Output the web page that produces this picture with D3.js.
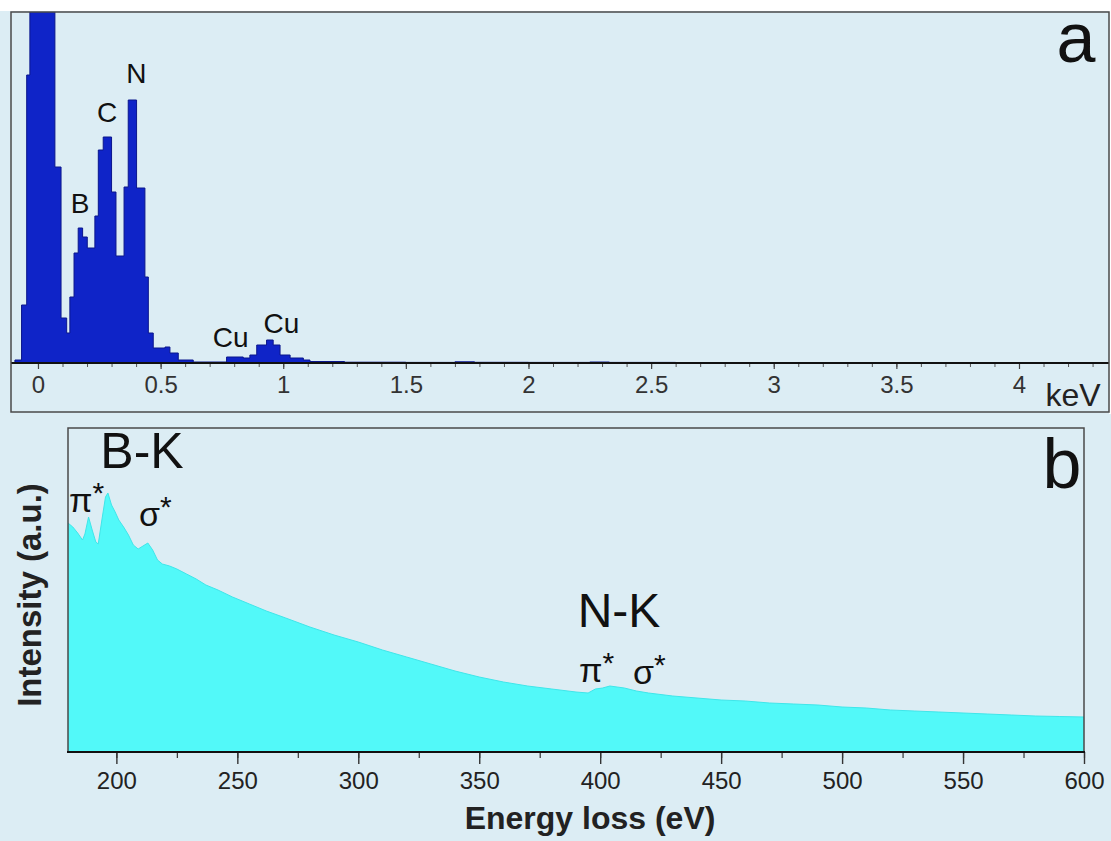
<!DOCTYPE html>
<html>
<head>
<meta charset="utf-8">
<script src="https://cdn.jsdelivr.net/npm/d3@7/dist/d3.min.js"></script>
<style>
  html, body { margin: 0; padding: 0; background: #dcedf4; }
  svg { display: block; }
  text { font-family: Arial, "Liberation Sans", Helvetica, sans-serif; }
</style>
</head>
<body>
<svg id="chart" width="1111" height="841"></svg>
<script>
// ---------- Panel a: EDS spectrum (step histogram) ----------
const edsEnergy = [-0.11, -0.094, -0.067, -0.046, -0.033, 0.069, 0.094, 0.117, 0.130, 0.147,
  0.164, 0.182, 0.201, 0.232, 0.246, 0.266, 0.300, 0.318, 0.351, 0.368,
  0.402, 0.436, 0.450, 0.470, 0.518, 0.538, 0.572, 0.633, 0.769, 0.837,
  0.864, 0.892, 0.932, 0.959, 0.987, 1.028, 1.082, 1.109, 1.25, 1.50,
  1.70, 1.78, 2.00, 2.25, 2.33, 2.60, 3.00, 3.50, 4.00, 4.367];
const edsCounts = [0, 3, 58, 288, 1500, 196, 45, 30, 66, 110,
  135, 126, 115, 147, 213, 226, 171, 107, 176, 263,
  175, 86, 30, 15, 16, 10, 3, 1, 6, 5,
  8, 18, 23, 18, 8, 5, 3, 1.5, 0.8, 0.6,
  1.2, 0.7, 0.6, 1.0, 0.6, 0.5, 0.5, 0.5, 0.5, 0.5];
const edsTicks = [0, 0.5, 1, 1.5, 2, 2.5, 3, 3.5, 4];
const edsPeakLabels = ["B", "C", "N", "Cu", "Cu"];
const edsPeakEnergy = [0.172, 0.282, 0.401, 0.786, 0.993];
const edsPeakLabelCount = [150, 241, 280, 16, 30];

// ---------- Panel b: EELS spectrum ----------
const eelsEnergy = [180, 182, 184, 186, 187, 188.5, 190, 191.5, 192.5, 194,
  195.5, 196.5, 198, 199.5, 201, 203, 205, 207, 209, 211,
  213, 215, 217, 219, 222, 225, 229, 233, 237, 242,
  248, 255, 262, 270, 280, 290, 300, 310, 320, 330,
  340, 350, 360, 370, 380, 390, 395, 398, 401, 404,
  407, 410, 415, 420, 430, 440, 450, 460, 470, 480,
  490, 500, 510, 520, 530, 540, 550, 560, 570, 580,
  590, 600];
const eelsIntensity = [229, 225, 219, 212, 218, 235, 222, 210, 208, 232,
  255, 259, 247, 240, 232, 225, 217, 207, 203, 206,
  209, 202, 192, 188, 186, 183, 178, 173, 167, 162,
  155, 148, 141, 134, 125, 117, 110, 102, 95, 88,
  81, 75, 70, 66, 63, 60, 59, 63, 64, 66,
  65, 64, 61, 59, 56, 54, 52, 51, 49, 48,
  47, 45, 44, 42, 41, 40, 39, 38, 37, 36,
  35.5, 35];
const eelsTicks = [200, 250, 300, 350, 400, 450, 500, 550, 600];

const svg = d3.select("#chart");
const BG = "#dcedf4";

svg.append("rect").attr("x", 0).attr("y", 0).attr("width", 1111).attr("height", 841).attr("fill", BG);
svg.append("rect").attr("x", 0).attr("y", 0).attr("width", 1111).attr("height", 11).attr("fill", "#ffffff");
svg.append("rect").attr("x", 1109).attr("y", 0).attr("width", 2).attr("height", 414).attr("fill", "#ffffff");

// ===== Panel a =====
const A = { left: 11, right: 1109, top: 12, bottom: 412, base: 363 };
const xA = d3.scaleLinear().domain([-0.11, 4.367]).range([A.left, A.right]);
const yA = d3.scaleLinear().domain([0, 351]).range([A.base, A.top]);

svg.append("defs").append("clipPath").attr("id", "clipA")
  .append("rect").attr("x", A.left).attr("y", A.top)
  .attr("width", A.right - A.left).attr("height", A.base - A.top);

const edsData = edsEnergy.map((e, i) => ({ e, c: edsCounts[i] }));
const areaA = d3.area().curve(d3.curveStepAfter)
  .x(d => xA(d.e)).y0(yA(0)).y1(d => yA(d.c));
const lineA = d3.line().curve(d3.curveStepAfter)
  .x(d => xA(d.e)).y(d => yA(d.c));

const gA = svg.append("g").attr("clip-path", "url(#clipA)");
gA.append("path").datum(edsData).attr("d", areaA).attr("fill", "#0f24c8");
gA.append("path").datum(edsData).attr("d", lineA).attr("fill", "none")
  .attr("stroke", "#0b168c").attr("stroke-width", 1);

const minorA = d3.range(0, 4.35, 0.1);
svg.append("g").attr("transform", `translate(0,${A.base})`)
  .call(d3.axisBottom(xA).tickValues(minorA).tickSize(4).tickFormat(""))
  .call(g => g.select(".domain").remove())
  .call(g => g.selectAll("line").attr("stroke", "#555").attr("stroke-width", 1));
const axA = svg.append("g").attr("transform", `translate(0,${A.base})`)
  .call(d3.axisBottom(xA).tickValues(edsTicks).tickSize(6).tickFormat(d3.format("")));
axA.select(".domain").remove();
axA.selectAll("line").attr("stroke", "#444").attr("stroke-width", 1.2);
axA.selectAll("text").attr("y", 30).attr("dy", null)
  .attr("font-size", 24).attr("fill", "#333")
  .style("font-family", "Arial, 'Liberation Sans', sans-serif");
svg.append("line").attr("x1", A.left).attr("x2", A.right)
  .attr("y1", A.base).attr("y2", A.base).attr("stroke", "#111").attr("stroke-width", 2);

svg.append("rect").attr("x", A.left).attr("y", A.top)
  .attr("width", A.right - A.left).attr("height", A.bottom - A.top)
  .attr("fill", "none").attr("stroke", "#4a4a4a").attr("stroke-width", 1.5);

svg.append("g").selectAll("text").data(edsPeakLabels).join("text")
  .attr("x", (d, i) => xA(edsPeakEnergy[i]))
  .attr("y", (d, i) => yA(edsPeakLabelCount[i]))
  .attr("text-anchor", "middle").attr("font-size", 28).attr("fill", "#111")
  .text(d => d);

svg.append("text").attr("x", 1076).attr("y", 62).attr("text-anchor", "middle")
  .attr("font-size", 70).attr("fill", "#111").text("a");
svg.append("text").attr("x", 1073).attr("y", 406).attr("text-anchor", "middle")
  .attr("font-size", 32).attr("fill", "#222").text("keV");

// ===== Panel b =====
const B = { left: 68, right: 1084, top: 428, base: 752 };
const xB = d3.scaleLinear().domain([180, 600]).range([B.left, B.right]);
const yB = d3.scaleLinear().domain([0, 324]).range([B.base, B.top]);

const eelsData = eelsEnergy.map((e, i) => ({ e, v: eelsIntensity[i] }));
const areaB = d3.area().curve(d3.curveLinear)
  .x(d => xB(d.e)).y0(yB(0)).y1(d => yB(d.v));
svg.append("path").datum(eelsData).attr("d", areaB).attr("fill", "#52f9f9");
svg.append("path").datum(eelsData).attr("fill", "none")
  .attr("d", d3.line().x(d => xB(d.e)).y(d => yB(d.v)))
  .attr("stroke", "#3fe6ea").attr("stroke-width", 1);

svg.append("path")
  .attr("d", `M${B.left},${B.base}V${B.top}H${B.right}V${B.base}`)
  .attr("fill", "none").attr("stroke", "#4a4a4a").attr("stroke-width", 1.5);

const minorB = d3.range(200, 601, 25);
svg.append("g").attr("transform", `translate(0,${B.base})`)
  .call(d3.axisBottom(xB).tickValues(minorB).tickSize(6).tickFormat(""))
  .call(g => g.select(".domain").remove())
  .call(g => g.selectAll("line").attr("stroke", "#333").attr("stroke-width", 1.2));
const axB = svg.append("g").attr("transform", `translate(0,${B.base})`)
  .call(d3.axisBottom(xB).tickValues(eelsTicks).tickSize(12).tickFormat(d3.format("d")));
axB.select(".domain").remove();
axB.selectAll("line").attr("stroke", "#333").attr("stroke-width", 1.4);
axB.selectAll("text").attr("y", 37).attr("dy", null)
  .attr("font-size", 24).attr("fill", "#222")
  .style("font-family", "Arial, 'Liberation Sans', sans-serif");
svg.append("line").attr("x1", B.left - 1).attr("x2", B.right + 1)
  .attr("y1", B.base).attr("y2", B.base).attr("stroke", "#111").attr("stroke-width", 2);

svg.append("text").attr("x", 590).attr("y", 829).attr("text-anchor", "middle")
  .attr("font-size", 32).attr("font-weight", "bold").attr("fill", "#222")
  .text("Energy loss (eV)");
svg.append("text").attr("transform", "translate(41,595) rotate(-90)")
  .attr("text-anchor", "middle").attr("font-size", 33).attr("font-weight", "bold")
  .attr("fill", "#222").text("Intensity (a.u.)");

svg.append("text").attr("x", 142).attr("y", 468).attr("text-anchor", "middle")
  .attr("font-size", 50).attr("fill", "#111").text("B-K");
svg.append("text").attr("x", 619).attr("y", 627).attr("text-anchor", "middle")
  .attr("font-size", 48).attr("fill", "#111").text("N-K");

function starLabel(x, y, sym) {
  const t = svg.append("text").attr("x", x).attr("y", y)
    .attr("font-size", 34).attr("fill", "#111");
  t.append("tspan").text(sym);
  t.append("tspan").attr("font-size", 30).attr("dy", -9).text("*");
}
starLabel(69, 512, "π");
starLabel(139, 526, "σ");
starLabel(579, 682, "π");
starLabel(633, 684, "σ");

svg.append("text").attr("x", 1062).attr("y", 488).attr("text-anchor", "middle")
  .attr("font-size", 70).attr("fill", "#111").text("b");
</script>
</body>
</html>
